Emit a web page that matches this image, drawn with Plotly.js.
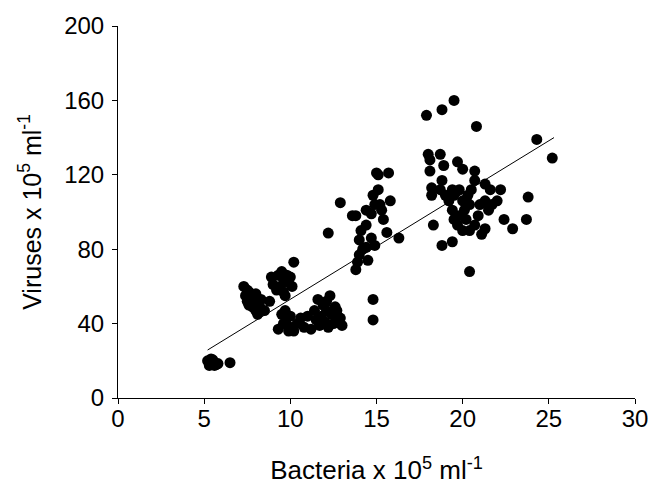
<!DOCTYPE html>
<html>
<head>
<meta charset="utf-8">
<script src="https://cdn.plot.ly/plotly-3.0.1.min.js"></script>
<style>html,body{margin:0;padding:0;background:#fff;}#chart{width:649px;height:488px;}</style>
</head>
<body>
<div id="chart"></div>
<script>
// Bacteria (x 10^5 ml^-1)
var bacteria = [
  5.2,5.3,5.4,5.5,5.6,5.7,5.3,5.5,5.8,6.5,
  7.3,7.5,7.4,7.5,7.6,7.8,8.0,8.2,7.7,8.0,8.3,7.9,8.5,8.1,7.6,8.8,
  8.9,9.3,9.6,9.8,9.4,9.6,9.9,10.1,9.2,9.7,10.2,9.0,10.0,9.5,
  9.3,9.6,9.8,9.5,10.0,10.2,10.4,10.0,10.6,9.9,10.8,11.2,9.7,
  11.4,11.6,11.9,12.1,12.3,11.8,12.0,12.2,11.5,12.4,12.7,12.9,13.0,12.5,11.7,12.1,12.6,11.0,
  12.2,12.9,
  13.6,13.8,13.8,13.9,14.0,14.0,14.2,14.4,14.1,14.4,14.4,14.7,14.8,14.9,15.0,15.1,15.1,15.2,15.3,15.4,15.6,15.7,15.8,16.3,14.8,14.8,14.7,14.5,14.9,
  17.9,18.8,19.5,20.8,
  18.0,18.1,18.7,18.9,19.7,20.0,20.7,
  18.1,18.2,18.2,18.8,18.7,19.0,19.2,19.4,19.5,19.8,20.0,20.3,20.4,20.1,19.8,19.5,19.4,19.7,20.0,20.4,20.7,20.9,21.0,21.3,21.5,21.7,22.0,22.2,21.3,21.6,20.7,20.5,
  18.3,18.8,19.4,20.4,21.3,22.4,22.9,23.7,23.8,24.3,25.2,21.1,20.2
];
// Viruses (x 10^5 ml^-1)
var viruses = [
  20,18.5,21,19,17.5,18,17.5,20.5,18.5,19,
  60,58,55,52,50,49,47,50,54,56,53,52,47,45,57,52,
  65,66,64,66,60,57,62,60,58,55,73,61,65,68,
  37,40,43,45,38,36,40,44,43,36,38,37,47,
  47,53,50,52,55,44,41,38,42,45,47,43,39,40,39,47,49,44,
  88.7,105,
  98,98,69,73,77,85,80,81,90,93,101,99,109,104,121,120,112,104,101,96,89,121,106,86,53,42,86,74,82,
  152,155,160,146,
  131,128,131,125,127,123,122,
  122,113,109,117,112,109,106,112,109,112,106,109,104,101,98,96,101,93,90,90,93,98,104,106,101,104,106,112,115,112,117,112,
  93,82,84,68,91,96,91,96,108,139,129,88,96
];
// Regression line end points
var fitX = [5.2, 25.3];
var fitY = [25.8, 140];
var xTicks = [0,5,10,15,20,25,30];
var yTicks = [0,40,80,120,160,200];

var font = 'Liberation Sans, Arial, sans-serif';
var data = [
  {x: bacteria, y: viruses, type: 'scatter', mode: 'markers',
   marker: {color: '#000', size: 11, line: {width: 0}}, hoverinfo: 'x+y'},
  {x: fitX, y: fitY, type: 'scatter', mode: 'lines',
   line: {color: '#000', width: 1}}
];
var layout = {
  width: 649, height: 488,
  margin: {l: 118, r: 14, t: 26, b: 90},
  paper_bgcolor: '#fff', plot_bgcolor: '#fff',
  showlegend: false,
  font: {family: font, color: '#000', size: 24},
  xaxis: {
    range: [0, 30], tickvals: xTicks, ticktext: xTicks.map(String),
    showgrid: false, zeroline: false, showline: true, linecolor: '#000', linewidth: 1,
    ticks: 'outside', ticklen: 5, tickcolor: '#000', tickwidth: 1, ticklabelstandoff: -6,
    tickfont: {family: font, size: 24, color: '#000'},
    title: {text: 'Bacteria x 10<sup>5</sup> ml<sup>-1</sup>', font: {family: font, size: 26, color: '#000'}, standoff: 30}
  },
  yaxis: {
    range: [0, 200], tickvals: yTicks, ticktext: yTicks.map(String),
    showgrid: false, zeroline: false, showline: true, linecolor: '#000', linewidth: 1,
    ticks: 'outside', ticklen: 5, tickcolor: '#000', tickwidth: 1, ticklabelstandoff: 3,
    tickfont: {family: font, size: 24, color: '#000'},
    title: {text: 'Viruses x 10<sup>5</sup> ml<sup>-1</sup>', font: {family: font, size: 25, color: '#000'}, standoff: 15}
  }
};
Plotly.newPlot('chart', data, layout, {displayModeBar: false, staticPlot: true});
</script>
</body>
</html>
